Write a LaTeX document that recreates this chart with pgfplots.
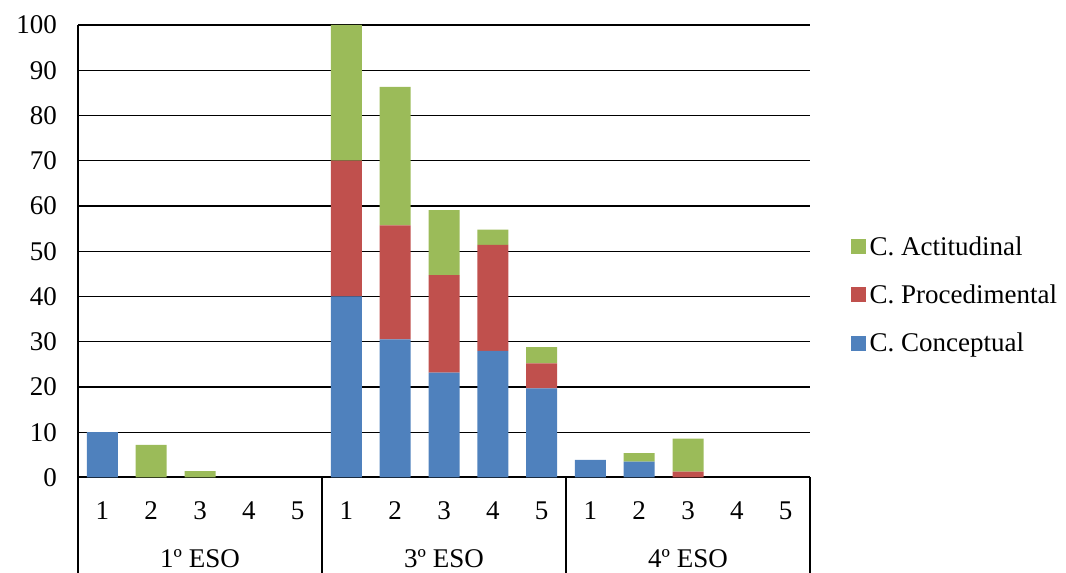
\documentclass[border=0pt]{standalone}
\usepackage{pgfplots}
\pgfplotsset{compat=1.18}
\usepackage{pgfplotstable}
\usepackage{fontspec}
\setmainfont{Liberation Serif}
\definecolor{cconc}{HTML}{4F81BD}
\definecolor{cproc}{HTML}{C0504D}
\definecolor{cacti}{HTML}{9BBB59}

% Segment heights per bar: 1-5 (1º ESO), 6-10 (3º ESO), 11-15 (4º ESO)
\pgfplotstableread{
x  conc  proc  acti
1  10.0  0     0
2  0     0     7.2
3  0     0     1.4
4  0     0     0
5  0     0     0
6  40.0  30.0  30.0
7  30.5  25.2  30.6
8  23.2  21.5  14.4
9  28.0  23.4  3.4
10 19.7  5.5   3.6
11 3.9   0     0
12 3.5   0     1.9
13 0     1.3   7.3
14 0     0     0
15 0     0     0
}\datatable

\begin{document}
\begin{tikzpicture}[x=1pt,y=1pt]
\useasboundingbox (0,0) rectangle (1066,573);
\begin{axis}[
  at={(78pt,95.5pt)}, anchor=south west,
  scale only axis, width=732pt, height=452.5pt,
  ybar stacked, bar width=31pt,
  xmin=0.5, xmax=15.5, ymin=0, ymax=100,
  xtick={1,...,15},
  xticklabels={1,2,3,4,5,1,2,3,4,5,1,2,3,4,5},
  ytick={0,10,...,100},
  ymajorgrids, grid style={black, line width=1.3pt},
  axis x line*=bottom, axis y line*=left,
  axis line style={black, line width=2pt, -},
  major tick length=0pt,
  tick label style={font=\fontsize{27}{30}\selectfont},
  /pgf/number format/assume math mode=true,
  yticklabel style={anchor=east, inner sep=0pt, xshift=-21pt},
  xticklabel style={anchor=base, inner sep=0pt, yshift=-42.5pt},
  legend style={at={(1.056,0.4035)}, anchor=west, draw=none, fill=none,
    inner sep=0pt, row sep=28pt, font=\fontsize{27}{30}\selectfont,
    nodes={inner xsep=3.5pt, inner ysep=0pt}},
  legend cell align=left,
  legend image code/.code={\fill[#1] (0pt,-7.5pt) rectangle (15pt,7.5pt);},
  reverse legend,
]
\addplot[fill=cconc, draw=none] table[x=x, y=conc] {\datatable};
\addlegendentry{C. Conceptual}
\addplot[fill=cproc, draw=none] table[x=x, y=proc] {\datatable};
\addlegendentry{C. Procedimental}
\addplot[fill=cacti, draw=none] table[x=x, y=acti] {\datatable};
\addlegendentry{C. Actitudinal}
\end{axis}
% group separators below the category axis
\foreach \sx in {78,322,566,810}
  \draw[black, line width=2pt] (\sx,95.5) -- (\sx,0);
\foreach \gx/\gl in {200/1º ESO, 444/3º ESO, 688/4º ESO}
  \node[anchor=base, inner sep=0pt, font=\fontsize{27}{30}\selectfont] at (\gx,5) {\gl};
\end{tikzpicture}
\end{document}
